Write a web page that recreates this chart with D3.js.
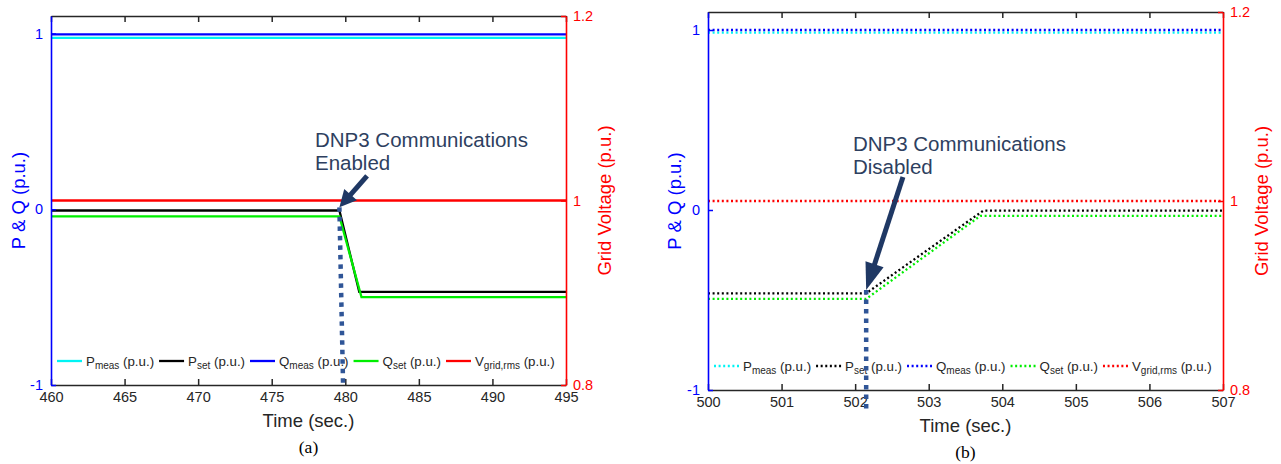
<!DOCTYPE html>
<html>
<head>
<meta charset="utf-8">
<script src="https://cdn.jsdelivr.net/npm/d3@7"></script>
<style>
  body { margin: 0; background: #fff; }
  text { font-family: Arial, "Liberation Sans", sans-serif; }
</style>
</head>
<body>
<svg id="chart" width="1281" height="464"></svg>
<script>
// ---- values ----
// x ticks
const ticksA = [460, 465, 470, 475, 480, 485, 490, 495];
const ticksB = [500, 501, 502, 503, 504, 505, 506, 507];
const leftTicks = [-1, 0, 1];
const rightTicks = [0.8, 1, 1.2];

// legend
const legendLetters = ["P", "P", "Q", "Q", "V"];
const legendSubs = ["meas", "set", "meas", "set", "grid,rms"];
const legendColors = ["#00f4f4", "#000000", "#0000ff", "#00ee00", "#ff0000"];

// panel (a): [time, value] breakpoints
const pmeasA = [[460, 0.975], [495, 0.975]];
const psetA  = [[460, -0.007], [479.6, -0.007], [480.95, -0.47], [495, -0.47]];
const qmeasA = [[460, 0.995], [495, 0.995]];
const qsetA  = [[460, -0.04], [479.6, -0.04], [481.1, -0.5], [495, -0.5]];
const vgridA = [[460, 1.0], [495, 1.0]];   // right axis

// panel (b)
const pmeasB = [[500, 0.985], [507, 0.985]];
const psetB  = [[500, -0.463], [502.15, -0.463], [503.74, -0.004], [507, -0.004]];
const qmeasB = [[500, 1.0], [507, 1.0]];
const qsetB  = [[500, -0.494], [502.15, -0.494], [503.7, -0.033], [507, -0.033]];
const vgridB = [[500, 1.0], [507, 1.0]];

// annotation texts
const noteTextA = ["DNP3 Communications", "Enabled"];
const noteTextB = ["DNP3 Communications", "Disabled"];

const svg = d3.select("#chart");

const panels = [
  {
    x0: 51, x1: 566, y0: 16, y1: 385,
    xDomain: [460, 495], xTicks: ticksA, dotted: false,
    left: [pmeasA, psetA, qmeasA, qsetA], right: vgridA,
    legendX: 57, legendY: 361,
    leftLabelX: 25, rightLabelX: 611, timeY: 427, caption: "(a)", captionY: 453,
    note: { lines: noteTextA, at: [477.94, 0.352], tail: [481.48, 0.19], tip: [479.6, 0.011],
            dashTop: [479.6, 0.011], dashBottom: [479.85, -1.0], head: 17, half: 8.5 }
  },
  {
    x0: 708, x1: 1223, y0: 12, y1: 390,
    xDomain: [500, 507], xTicks: ticksB, dotted: true,
    left: [pmeasB, psetB, qmeasB, qsetB], right: vgridB,
    legendX: 714, legendY: 366,
    leftLabelX: 681, rightLabelX: 1268, timeY: 432, caption: "(b)", captionY: 458,
    note: { lines: noteTextB, at: [501.97, 0.328], tail: [502.65, 0.183], tip: [502.15, -0.444],
            dashTop: [502.15, -0.444], dashBottom: [502.15, -1.13], head: 27, half: 9.5 }
  }
];

panels.forEach((p, i) => drawPanel(p, i));

function drawPanel(p, idx) {
  const x = d3.scaleLinear().domain(p.xDomain).range([p.x0, p.x1]);
  const yL = d3.scaleLinear().domain([-1, 1.1]).range([p.y1, p.y0]);
  const yR = d3.scaleLinear().domain([0.8, 1.2]).range([p.y1, p.y0]);

  const g = svg.append("g");

  // clip for data lines
  const clipId = "clip" + idx;
  svg.append("clipPath").attr("id", clipId)
    .append("rect")
    .attr("x", p.x0).attr("y", p.y0)
    .attr("width", p.x1 - p.x0).attr("height", p.y1 - p.y0);

  const dash = p.dotted ? "2,2.6" : null;
  const lw = 2.3;

  const lineL = d3.line().x(d => x(d[0])).y(d => yL(d[1]));
  const lineR = d3.line().x(d => x(d[0])).y(d => yR(d[1]));

  const lines = g.append("g").attr("clip-path", `url(#${clipId})`);
  p.left.forEach((s, k) => {
    lines.append("path")
      .attr("d", lineL(s))
      .attr("fill", "none")
      .attr("stroke", legendColors[k])
      .attr("stroke-width", lw)
      .attr("stroke-dasharray", dash);
  });
  lines.append("path")
    .attr("d", lineR(p.right))
    .attr("fill", "none")
    .attr("stroke", legendColors[4])
    .attr("stroke-width", lw)
    .attr("stroke-dasharray", dash);

  // x axes (bottom with labels, top ticks only)
  const bottom = g.append("g")
    .attr("transform", `translate(0,${p.y1})`)
    .call(d3.axisBottom(x).tickValues(p.xTicks).tickSizeInner(-6).tickSizeOuter(0)
      .tickPadding(7).tickFormat(d => String(d)));
  const top = g.append("g")
    .attr("transform", `translate(0,${p.y0})`)
    .call(d3.axisTop(x).tickValues(p.xTicks).tickSizeInner(-6).tickSizeOuter(0)
      .tickFormat(""));
  [bottom, top].forEach(a => {
    a.select(".domain").attr("stroke", "#262626").attr("stroke-width", 1.5);
    a.selectAll(".tick line").attr("stroke", "#262626").attr("stroke-width", 1.5);
    a.selectAll(".tick text").attr("fill", "#262626")
      .style("font-size", "14.5px").style("font-family", "Arial, 'Liberation Sans', sans-serif");
  });

  // left axis (blue)
  const leftAx = g.append("g")
    .attr("transform", `translate(${p.x0},0)`)
    .call(d3.axisLeft(yL).tickValues(leftTicks).tickSizeInner(-5).tickSizeOuter(0)
      .tickPadding(8).tickFormat(d => String(d)));
  leftAx.select(".domain").attr("stroke", "#0000ff").attr("stroke-width", 1.6);
  leftAx.selectAll(".tick line").attr("stroke", "#0000ff").attr("stroke-width", 1.5);
  leftAx.selectAll(".tick text").attr("fill", "#0000ff")
    .style("font-size", "14.5px").style("font-family", "Arial, 'Liberation Sans', sans-serif");

  // right axis (red)
  const rightAx = g.append("g")
    .attr("transform", `translate(${p.x1},0)`)
    .call(d3.axisRight(yR).tickValues(rightTicks).tickSizeInner(-5).tickSizeOuter(0)
      .tickPadding(7).tickFormat(d => String(d)));
  rightAx.select(".domain").attr("stroke", "#ff0000").attr("stroke-width", 1.6);
  rightAx.selectAll(".tick line").attr("stroke", "#ff0000").attr("stroke-width", 1.5);
  rightAx.selectAll(".tick text").attr("fill", "#ff0000")
    .style("font-size", "14.5px").style("font-family", "Arial, 'Liberation Sans', sans-serif");

  // axis titles
  const midY = (p.y0 + p.y1) / 2;
  g.append("text")
    .attr("transform", `translate(${p.leftLabelX},${midY}) rotate(-90)`)
    .attr("text-anchor", "middle")
    .attr("fill", "#0000ff")
    .style("font-size", "18.5px")
    .text("P & Q (p.u.)");
  g.append("text")
    .attr("transform", `translate(${p.rightLabelX},${midY}) rotate(-90)`)
    .attr("text-anchor", "middle")
    .attr("fill", "#ff0000")
    .style("font-size", "18.5px")
    .text("Grid Voltage (p.u.)");
  g.append("text")
    .attr("x", (p.x0 + p.x1) / 2).attr("y", p.timeY)
    .attr("text-anchor", "middle")
    .attr("fill", "#262626")
    .style("font-size", "18.5px")
    .text("Time (sec.)");
  g.append("text")
    .attr("x", (p.x0 + p.x1) / 2).attr("y", p.captionY)
    .attr("text-anchor", "middle")
    .attr("fill", "#000")
    .style("font-family", "'Liberation Serif', 'Times New Roman', serif")
    .style("font-size", "17.5px")
    .text(p.caption);

  // legend
  let lx = p.legendX;
  legendLetters.forEach((letter, k) => {
    g.append("line")
      .attr("x1", lx).attr("x2", lx + 25)
      .attr("y1", p.legendY).attr("y2", p.legendY)
      .attr("stroke", legendColors[k])
      .attr("stroke-width", 2.3)
      .attr("stroke-dasharray", dash);
    lx += 29;
    const t = g.append("text")
      .attr("x", lx).attr("y", p.legendY + 4.5)
      .attr("fill", "#262626")
      .style("font-size", "13.3px");
    t.append("tspan").text(letter);
    t.append("tspan").attr("dy", 3.5).style("font-size", "10px").text(legendSubs[k]);
    t.append("tspan").attr("dy", -3.5).text(" (p.u.)");
    lx += t.node().getComputedTextLength() + 5;
  });

  // annotation
  const n = p.note;
  const navy = "#1f3864";
  g.append("line")
    .attr("x1", x(n.dashTop[0])).attr("y1", yL(n.dashTop[1]))
    .attr("x2", x(n.dashBottom[0])).attr("y2", yL(n.dashBottom[1]))
    .attr("stroke", "#2f5597")
    .attr("stroke-width", 4.5)
    .attr("stroke-dasharray", "4.5,5");

  const tail = [x(n.tail[0]), yL(n.tail[1])];
  const tip = [x(n.tip[0]), yL(n.tip[1])];
  const dx = tip[0] - tail[0], dy = tip[1] - tail[1];
  const len = Math.hypot(dx, dy);
  const ux = dx / len, uy = dy / len;
  const base = [tip[0] - ux * n.head, tip[1] - uy * n.head];
  g.append("line")
    .attr("x1", tail[0]).attr("y1", tail[1])
    .attr("x2", base[0] + ux * 2).attr("y2", base[1] + uy * 2)
    .attr("stroke", navy).attr("stroke-width", 5);
  g.append("polygon")
    .attr("points", [
      tip,
      [base[0] - uy * n.half, base[1] + ux * n.half],
      [base[0] + uy * n.half, base[1] - ux * n.half]
    ].map(q => q.join(",")).join(" "))
    .attr("fill", navy);

  const nt = g.append("text")
    .attr("x", x(n.at[0])).attr("y", yL(n.at[1]))
    .attr("fill", "#2e3f5f")
    .style("font-size", "20.5px");
  n.lines.forEach((s, k) => {
    nt.append("tspan")
      .attr("x", x(n.at[0]))
      .attr("dy", k === 0 ? 0 : 23)
      .text(s);
  });
}
</script>
</body>
</html>
